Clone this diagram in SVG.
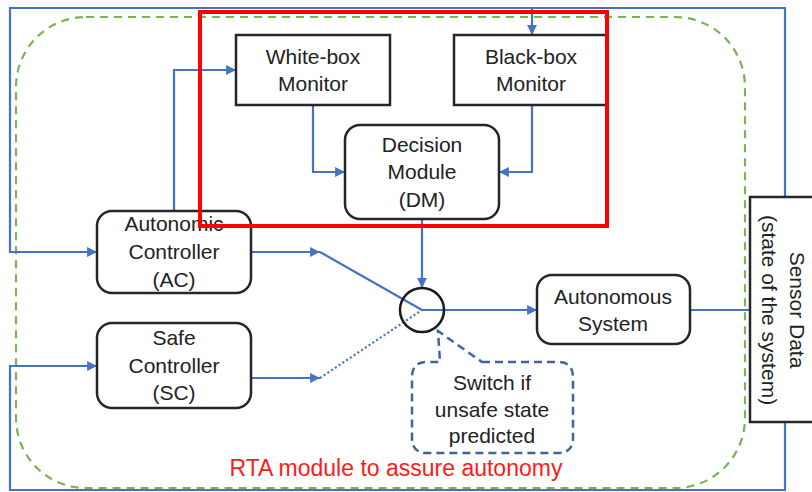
<svg xmlns="http://www.w3.org/2000/svg" width="812" height="492" viewBox="0 0 812 492">
  <style>
    .box { fill: #ffffff; stroke: #262626; stroke-width: 2.5; }
    .lbl { font-family: "Liberation Sans", Arial, sans-serif; font-size: 21px; fill: #222222; text-anchor: middle; }
    .wire { fill: none; stroke: #4472c4; stroke-width: 2.2; }
    .dotted { fill: none; stroke: #4472c4; stroke-width: 2.2; stroke-dasharray: 2 2.5; }
    .arrow { marker-end: url(#head); }
  </style>
  <defs>
    <marker id="head" viewBox="0 0 10 10" refX="10" refY="5" markerWidth="4.5" markerHeight="4.5" orient="auto" markerUnits="strokeWidth">
      <path d="M0,0 L10,5 L0,10 Z" fill="#4472c4"/>
    </marker>
  </defs>

  <rect x="0" y="0" width="812" height="492" fill="#ffffff"/>

  <!-- RTA boundary -->
  <rect id="rta-boundary" x="16" y="17" width="729" height="471" rx="70" ry="70" fill="none" stroke="#7ab356" stroke-width="2.2" stroke-dasharray="8 6"/>

  <g id="connectors">
    <!-- sensor feedback, upper loop -->
    <path class="wire" d="M785,197 V8 H10 V252 H96"/>
    <path class="wire arrow" d="M96,252 H97"/>
    <path class="wire arrow" d="M532,8 V35"/>
    <!-- sensor feedback, lower loop -->
    <path class="wire" d="M785,422 V490 H10 V366 H96"/>
    <path class="wire arrow" d="M96,366 H97"/>
    <!-- AC to white-box monitor -->
    <path class="wire arrow" d="M174,211 V70 H236"/>
    <!-- monitors to decision module -->
    <path class="wire arrow" d="M313,105 V172 H345"/>
    <path class="wire arrow" d="M532,105 V172 H499"/>
    <!-- decision module to switch -->
    <path class="wire arrow" d="M422,219 V288"/>
    <!-- controllers to switch -->
    <path class="wire arrow" d="M251,252 H320"/>
    <path class="wire" d="M320,252 L422,310"/>
    <path class="wire arrow" d="M251,378 H320"/>
    <path class="dotted" d="M320,378 L422,310"/>
    <!-- switch to autonomous system -->
    <path class="wire arrow" d="M422,310 H537"/>
    <!-- autonomous system to sensor data -->
    <path class="wire" d="M690,310 H750"/>
  </g>

  <g id="switch">
    <circle cx="422" cy="310" r="22" fill="none" stroke="#1a1a1a" stroke-width="2.5"/>
  </g>

  <g id="switch-note">
    <path d="M482,362 H558 Q573,362 573,377 V438 Q573,453 558,453 H427 Q412,453 412,438 V377 Q412,362 427,362 H440 L438,331 Z" fill="none" stroke="#44639a" stroke-width="2.5" stroke-dasharray="8 5"/>
    <text class="lbl" x="492" y="390">Switch if</text>
    <text class="lbl" x="492" y="417">unsafe state</text>
    <text class="lbl" x="492" y="443">predicted</text>
  </g>

  <g id="white-box-monitor">
    <rect class="box" x="236" y="35" width="154" height="70"/>
    <text class="lbl" x="313" y="64">White-box</text>
    <text class="lbl" x="313" y="91">Monitor</text>
  </g>

  <g id="black-box-monitor">
    <rect class="box" x="454" y="35" width="153" height="70"/>
    <text class="lbl" x="531" y="64">Black-box</text>
    <text class="lbl" x="531" y="91">Monitor</text>
  </g>

  <g id="decision-module">
    <rect class="box" x="345" y="125" width="154" height="94" rx="15" ry="15"/>
    <text class="lbl" x="422" y="152">Decision</text>
    <text class="lbl" x="422" y="179">Module</text>
    <text class="lbl" x="422" y="207">(DM)</text>
  </g>

  <g id="autonomic-controller">
    <rect class="box" x="97" y="211" width="154" height="82" rx="15" ry="15"/>
    <text class="lbl" x="174" y="231">Autonomic</text>
    <text class="lbl" x="174" y="259">Controller</text>
    <text class="lbl" x="174" y="287">(AC)</text>
  </g>

  <g id="safe-controller">
    <rect class="box" x="97" y="323" width="154" height="85" rx="15" ry="15"/>
    <text class="lbl" x="174" y="345">Safe</text>
    <text class="lbl" x="174" y="373">Controller</text>
    <text class="lbl" x="174" y="400">(SC)</text>
  </g>

  <g id="autonomous-system">
    <rect class="box" x="537" y="275" width="153" height="69" rx="15" ry="15"/>
    <text class="lbl" x="613" y="304">Autonomous</text>
    <text class="lbl" x="613" y="331">System</text>
  </g>

  <g id="sensor-data">
    <rect class="box" x="750" y="197" width="70" height="225"/>
    <text class="lbl" transform="translate(790,310) rotate(90)">Sensor Data</text>
    <text class="lbl" transform="translate(762,310) rotate(90)">(state of the system)</text>
  </g>

  <text id="rta-label" x="396" y="476" font-family="'Liberation Sans', Arial, sans-serif" font-size="23" fill="#ff1a1a" text-anchor="middle">RTA module to assure autonomy</text>

  <!-- highlight frame around the monitoring part -->
  <rect id="monitor-highlight" x="200" y="12" width="407" height="214" fill="none" stroke="#ff0000" stroke-width="4"/>
</svg>
